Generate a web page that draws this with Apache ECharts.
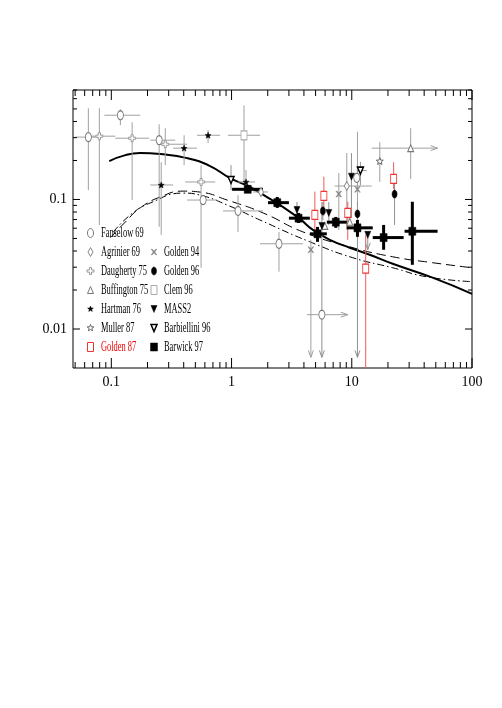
<!DOCTYPE html>
<html>
<head>
<meta charset="utf-8">
<title>spectrum</title>
<script src="https://cdn.jsdelivr.net/npm/echarts/dist/echarts.min.js"></script>
<style>html,body{margin:0;padding:0;background:#fff}#main{width:502px;height:708px}</style>
</head>
<body>
<div id="main"></div>
<script>
// points: [x, y, xLow, xHigh, yLow, yHigh, arrow]  arrow: 0 none, 1 down, 2 right
var fanselow69 = [
  [0.0644, 0.303, 0.0502, 0.0826, 0.118, 0.506, 0],
  [0.119, 0.447, 0.0875, 0.174, 0.374, 0.497, 0],
  [0.250, 0.287, 0.211, 0.340, 0.0615, 0.381, 0],
  [0.580, 0.099, 0.427, 0.758, 0.099, 0.099, 0],
  [1.132, 0.0816, 0.850, 1.825, 0.0562, 0.108, 0],
  [2.48, 0.0455, 1.724, 3.92, 0.0277, 0.0562, 0],
  [5.64, 0.0129, 4.23, 9.26, 0.0129, 0.0129, 2],
  [11.0, 0.147, 11.0, 11.0, 0.147, 0.147, 0]
];
var agrinier69 = [
  [9.09, 0.127, 7.22, 14.66, 0.0582, 0.228, 0],
  [1.757, 0.1143, 1.508, 2.01, 0.1143, 0.1143, 0]
];
var daugherty75 = [
  [0.0795, 0.308, 0.0644, 0.108, 0.0636, 0.506, 0],
  [0.149, 0.297, 0.108, 0.207, 0.099, 0.394, 0],
  [0.281, 0.267, 0.241, 0.427, 0.184, 0.355, 0],
  [0.558, 0.1365, 0.411, 0.730, 0.0297, 0.184, 0]
];
var buffington75 = [
  [30.9, 0.249, 14.66, 51.7, 0.144, 0.355, 2],
  [5.97, 0.0625, 5.97, 5.97, 0.0625, 0.0625, 0],
  [9.62, 0.0672, 9.62, 9.62, 0.0672, 0.0672, 0]
];
var hartman76 = [
  [0.403, 0.249, 0.327, 0.517, 0.184, 0.313, 0],
  [0.260, 0.1294, 0.211, 0.327, 0.0533, 0.194, 0],
  [0.638, 0.313, 0.517, 0.803, 0.272, 0.343, 0],
  [1.319, 0.1365, 1.132, 1.567, 0.1143, 0.1687, 0]
];
var muller87 = [
  [17.1, 0.198, 17.1, 17.1, 0.1365, 0.2767, 0]
];
var golden87 = [
  [4.93, 0.076, 4.93, 4.93, 0.0515, 0.115, 0],
  [5.86, 0.1064, 5.86, 5.86, 0.075, 0.15, 0],
  [9.26, 0.0787, 9.26, 9.26, 0.0488, 0.0962, 0],
  [13.06, 0.0292, 13.06, 13.06, 0.005, 0.0533, 0],
  [22.3, 0.144, 22.3, 22.3, 0.12, 0.194, 0]
];
var golden94 = [
  [7.80, 0.110, 7.80, 7.80, 0.0582, 0.160, 0],
  [11.15, 0.1198, 11.15, 11.15, 0.0907, 0.333, 0],
  [4.57, 0.0409, 4.57, 4.57, 0.00604, 0.0488, 1]
];
var golden96 = [
  [5.75, 0.0816, 5.75, 5.75, 0.0695, 0.0957, 0],
  [11.15, 0.0774, 11.15, 11.15, 0.00604, 0.0957, 1],
  [22.7, 0.110, 22.7, 22.7, 0.0636, 0.144, 0]
];
var clem96 = [
  [1.27, 0.313, 0.935, 1.724, 0.1365, 0.533, 0]
];
var mass2 = [
  [3.50, 0.083, 3.50, 3.50, 0.072, 0.0957, 0],
  [6.44, 0.0787, 6.44, 6.44, 0.0636, 0.0957, 0],
  [9.94, 0.150, 9.94, 9.94, 0.072, 0.228, 0],
  [5.64, 0.0625, 5.64, 5.64, 0.00604, 0.0957, 1],
  [13.58, 0.0533, 13.58, 13.58, 0.0409, 0.0533, 1]
];
var barbiellini96 = [
  [0.99, 0.1413, 0.99, 0.99, 0.118, 0.184, 0],
  [11.8, 0.167, 11.0, 13.3, 0.129, 0.195, 0]
];
var barwick97 = [
  [1.363, 0.1198, 1.01, 1.825, 0.1122, 0.1294, 0],
  [2.40, 0.0945, 2.01, 3.0, 0.0861, 0.1045, 0],
  [3.61, 0.0717, 3.0, 4.48, 0.0659, 0.0787, 0],
  [5.19, 0.0543, 4.48, 6.20, 0.0471, 0.0614, 0],
  [7.36, 0.0668, 6.20, 9.09, 0.0604, 0.0733, 0],
  [11.15, 0.0604, 9.09, 14.94, 0.0515, 0.0695, 0],
  [18.4, 0.0508, 14.94, 27.0, 0.0409, 0.0636, 0],
  [31.9, 0.0568, 27.5, 51.7, 0.0313, 0.096, 0]
];

// model curves
var solidX = [0.0962, 0.131, 0.174, 0.255, 0.427, 0.663, 0.972, 1.42, 2.087, 2.67, 3.70, 4.75, 6.57, 9.62, 14.1, 21.9, 47, 100];
var solidY = [0.198, 0.220, 0.228, 0.224, 0.2085, 0.181, 0.146, 0.1248, 0.1009, 0.0876, 0.0708, 0.0582, 0.0488, 0.0424, 0.0374, 0.0319, 0.0249, 0.0187];
var dashedX = [0.098, 0.131, 0.174, 0.255, 0.396, 0.548, 0.918, 1.83, 3.92, 9.62, 21.9, 47, 100];
var dashedY = [0.0506, 0.0671, 0.0861, 0.1045, 0.116, 0.114, 0.099, 0.0787, 0.0562, 0.0431, 0.0361, 0.0325, 0.0297];
var dashDotX = [0.104, 0.144, 0.211, 0.396, 0.548, 0.918, 1.72, 4.48, 10.2, 21.9, 41.9, 100];
var dashDotY = [0.0562, 0.076, 0.094, 0.112, 0.108, 0.0907, 0.0695, 0.0471, 0.0355, 0.0297, 0.0253, 0.0232];

// axes
var X_MIN = 0.048, X_MAX = 100, Y_MIN = 0.005, Y_MAX = 0.7;
var xLabelVals = [0.1, 1, 10, 100];
var xLabelTexts = ['0.1', '1', '10', '100'];
var yLabelVals = [0.01, 0.1];
var yLabelTexts = ['0.01', '0.1'];

// marker shapes, unit box [-1,1]
function ring(n) {
  var p = [];
  for (var i = 0; i < n; i++) p.push([Math.cos(2 * Math.PI * i / n), Math.sin(2 * Math.PI * i / n)]);
  return p;
}
function starPts() {
  var p = [];
  for (var i = 0; i < 10; i++) {
    var a = -Math.PI / 2 + i * Math.PI / 5, r = i % 2 ? 0.42 : 1;
    p.push([r * Math.cos(a), r * Math.sin(a)]);
  }
  return p;
}
var SHAPES = {
  ellipse: ring(24),
  diamond: [[0, -1], [1, 0], [0, 1], [-1, 0]],
  cross: [[-0.3, -1], [0.3, -1], [0.3, -0.3], [1, -0.3], [1, 0.3], [0.3, 0.3], [0.3, 1], [-0.3, 1], [-0.3, 0.3], [-1, 0.3], [-1, -0.3], [-0.3, -0.3]],
  triUp: [[0, -1], [1, 1], [-1, 1]],
  triDown: [[-1, -1], [1, -1], [0, 1]],
  rect: [[-1, -1], [1, -1], [1, 1], [-1, 1]],
  star: starPts(),
  xmark: [[-1, -1], [-0.6, -1], [0, -0.35], [0.6, -1], [1, -1], [0.3, 0], [1, 1], [0.6, 1], [0, 0.35], [-0.6, 1], [-1, 1], [-0.3, 0]]
};
function toPath(pts) {
  return 'path://' + pts.map(function (p, i) {
    return (i ? 'L' : 'M') + ((p[0] + 1) * 10).toFixed(2) + ',' + ((p[1] + 1) * 10).toFixed(2);
  }).join('') + 'Z';
}

var groups = [
  { name: 'Fanselow 69', data: fanselow69, shape: 'ellipse', size: [6, 9], fill: '#fff', stroke: '#777', lw: 1, bar: '#a0a0a0', barW: 1 },
  { name: 'Agrinier 69', data: agrinier69, shape: 'diamond', size: [5, 9], fill: '#fff', stroke: '#888', lw: 1, bar: '#a0a0a0', barW: 1 },
  { name: 'Daugherty 75', data: daugherty75, shape: 'cross', size: [7, 7], fill: '#fff', stroke: '#999', lw: 1, bar: '#a0a0a0', barW: 1 },
  { name: 'Buffington 75', data: buffington75, shape: 'triUp', size: [6, 7], fill: '#fff', stroke: '#777', lw: 1, bar: '#a0a0a0', barW: 1 },
  { name: 'Hartman 76', data: hartman76, shape: 'star', size: [6, 6], fill: '#000', stroke: '#000', lw: 0.5, bar: '#a0a0a0', barW: 1 },
  { name: 'Muller 87', data: muller87, shape: 'star', size: [7, 7], fill: '#fff', stroke: '#666', lw: 1, bar: '#a0a0a0', barW: 1 },
  { name: 'Golden 87', data: golden87, shape: 'rect', size: [6, 9], fill: '#fff', stroke: '#e33', lw: 1, bar: '#f05a5a', barW: 1, text: '#e00' },
  { name: 'Golden 94', data: golden94, shape: 'xmark', size: [6, 6], fill: '#888', stroke: '#888', lw: 0.3, bar: '#a0a0a0', barW: 1 },
  { name: 'Golden 96', data: golden96, shape: 'ellipse', size: [5, 8], fill: '#000', stroke: '#000', lw: 0.5, bar: '#909090', barW: 1 },
  { name: 'Clem 96', data: clem96, shape: 'rect', size: [6, 9], fill: '#fff', stroke: '#aaa', lw: 1, bar: '#a0a0a0', barW: 1 },
  { name: 'MASS2', data: mass2, shape: 'triDown', size: [6, 7], fill: '#000', stroke: '#000', lw: 0.5, bar: '#909090', barW: 1 },
  { name: 'Barbiellini 96', data: barbiellini96, shape: 'triDown', size: [6, 7], fill: '#fff', stroke: '#000', lw: 1.5, bar: '#909090', barW: 1 },
  { name: 'Barwick 97', data: barwick97, shape: 'rect', size: [7, 8], fill: '#000', stroke: '#000', lw: 0.5, bar: '#000', barW: 3 }
];

function barRenderer(color, width) {
  return function (params, api) {
    var x = api.value(0), y = api.value(1);
    var c = api.coord([x, y]);
    var l = api.coord([api.value(2), y]), r = api.coord([api.value(3), y]);
    var lo = api.coord([x, api.value(4)]), hi = api.coord([x, api.value(5)]);
    var arrow = api.value(6);
    var st = { stroke: color, lineWidth: width, fill: null };
    var kids = [];
    if (r[0] - l[0] > 1) kids.push({ type: 'line', shape: { x1: l[0], y1: c[1], x2: r[0], y2: c[1] }, style: st });
    if (lo[1] - hi[1] > 1) kids.push({ type: 'line', shape: { x1: c[0], y1: hi[1], x2: c[0], y2: lo[1] }, style: st });
    if (arrow === 1) kids.push({ type: 'polyline', shape: { points: [[c[0] - 2.5, lo[1] - 7], [c[0], lo[1]], [c[0] + 2.5, lo[1] - 7]] }, style: st });
    if (arrow === 2) kids.push({ type: 'polyline', shape: { points: [[r[0] - 7, c[1] - 2.5], [r[0], c[1]], [r[0] - 7, c[1] + 2.5]] }, style: st });
    return { type: 'group', children: kids };
  };
}

// tick marks, inward on all four sides
var xTicks = [], yTicks = [];
[0.01, 0.1, 1, 10, 100].forEach(function (d) {
  for (var m = 1; m <= 9; m++) {
    var v = +(m * d).toPrecision(3);
    if (v >= X_MIN && v <= X_MAX) xTicks.push([v, Y_MIN, m === 1 ? 1 : 0]);
    if (v >= Y_MIN && v <= Y_MAX) yTicks.push([X_MIN, v, m === 1 ? 1 : 0]);
  }
});

function pickLabel(vals, texts) {
  return function (v) {
    for (var i = 0; i < vals.length; i++) if (Math.abs(v / vals[i] - 1) < 1e-6) return texts[i];
    return '';
  };
}

var series = [];
function curve(xs, ys, type, width) {
  series.push({
    type: 'line', data: xs.map(function (x, i) { return [x, ys[i]]; }),
    smooth: true, showSymbol: false, symbol: 'none', silent: true, z: 2,
    lineStyle: { color: '#000', width: width, type: type }
  });
}
curve(solidX, solidY, 'solid', 2);
curve(dashedX, dashedY, [9, 5], 1);
curve(dashDotX, dashDotY, [7, 3, 1.5, 3], 1);

groups.forEach(function (g) {
  series.push({
    type: 'custom', data: g.data, z: 3, silent: true,
    encode: { x: 0, y: 1 },
    renderItem: barRenderer(g.bar, g.barW)
  });
});
groups.forEach(function (g) {
  series.push({
    type: 'scatter', name: g.name, z: 5, silent: true,
    data: g.data.map(function (d) { return [d[0], d[1]]; }),
    symbol: toPath(SHAPES[g.shape]), symbolSize: g.size,
    itemStyle: { color: g.fill, borderColor: g.stroke, borderWidth: g.lw, opacity: 1 }
  });
});

series.push({
  type: 'custom', data: xTicks, z: 6, silent: true, encode: { x: 0, y: 1 },
  renderItem: function (params, api) {
    var v = api.value(0), len = api.value(2) ? 10 : 6;
    var b = api.coord([v, Y_MIN]), t = api.coord([v, Y_MAX]);
    var st = { stroke: '#000', lineWidth: 1 };
    return { type: 'group', children: [
      { type: 'line', shape: { x1: b[0], y1: b[1], x2: b[0], y2: b[1] - len }, style: st },
      { type: 'line', shape: { x1: t[0], y1: t[1], x2: t[0], y2: t[1] + len }, style: st }
    ] };
  }
});
series.push({
  type: 'custom', data: yTicks, z: 6, silent: true, encode: { x: 0, y: 1 },
  renderItem: function (params, api) {
    var v = api.value(1), len = api.value(2) ? 7 : 4;
    var l = api.coord([X_MIN, v]), r = api.coord([X_MAX, v]);
    var st = { stroke: '#000', lineWidth: 1 };
    return { type: 'group', children: [
      { type: 'line', shape: { x1: l[0], y1: l[1], x2: l[0] + len, y2: l[1] }, style: st },
      { type: 'line', shape: { x1: r[0], y1: r[1], x2: r[0] - len, y2: r[1] }, style: st }
    ] };
  }
});

// legend drawn in two columns inside the frame
var LEG = { icon: [90.5, 154], text: [101, 164], row0: 233, step: 19, scaleX: 0.56 };
var legendEls = [];
groups.forEach(function (g, i) {
  var col = i < 7 ? 0 : 1, row = i < 7 ? i : i - 6;
  var cx = LEG.icon[col], cy = LEG.row0 + row * LEG.step;
  legendEls.push({
    type: 'polygon',
    shape: { points: SHAPES[g.shape].map(function (p) { return [cx + p[0] * g.size[0] / 2, cy + p[1] * g.size[1] / 2]; }) },
    style: { fill: g.fill, stroke: g.stroke, lineWidth: g.lw }
  });
  legendEls.push({
    type: 'text', x: LEG.text[col], y: cy, scaleX: LEG.scaleX,
    style: { text: g.name, fill: g.text || '#000', font: '15px "Liberation Serif", serif', verticalAlign: 'middle', textVerticalAlign: 'middle' }
  });
});

var chart = echarts.init(document.getElementById('main'), null, { renderer: 'canvas' });
chart.setOption({
  animation: false,
  backgroundColor: '#fff',
  grid: { left: 73, right: 30, top: 90, bottom: 340, show: true, borderColor: '#000', borderWidth: 1, backgroundColor: 'transparent', outerBoundsMode: 'none' },
  xAxis: {
    type: 'log', logBase: 10, min: X_MIN, max: X_MAX,
    axisLine: { show: false }, axisTick: { show: false }, splitLine: { show: false }, minorTick: { show: false },
    axisLabel: { formatter: pickLabel(xLabelVals, xLabelTexts), color: '#000', fontFamily: 'Liberation Serif', fontSize: 14, margin: 7, showMinLabel: true, showMaxLabel: true, hideOverlap: false }
  },
  yAxis: {
    type: 'log', logBase: 10, min: Y_MIN, max: Y_MAX,
    axisLine: { show: false }, axisTick: { show: false }, splitLine: { show: false }, minorTick: { show: false },
    axisLabel: { formatter: pickLabel(yLabelVals, yLabelTexts), color: '#000', fontFamily: 'Liberation Serif', fontSize: 14, margin: 6, showMinLabel: true, showMaxLabel: true, hideOverlap: false }
  },
  graphic: legendEls,
  series: series
});
</script>
</body>
</html>
